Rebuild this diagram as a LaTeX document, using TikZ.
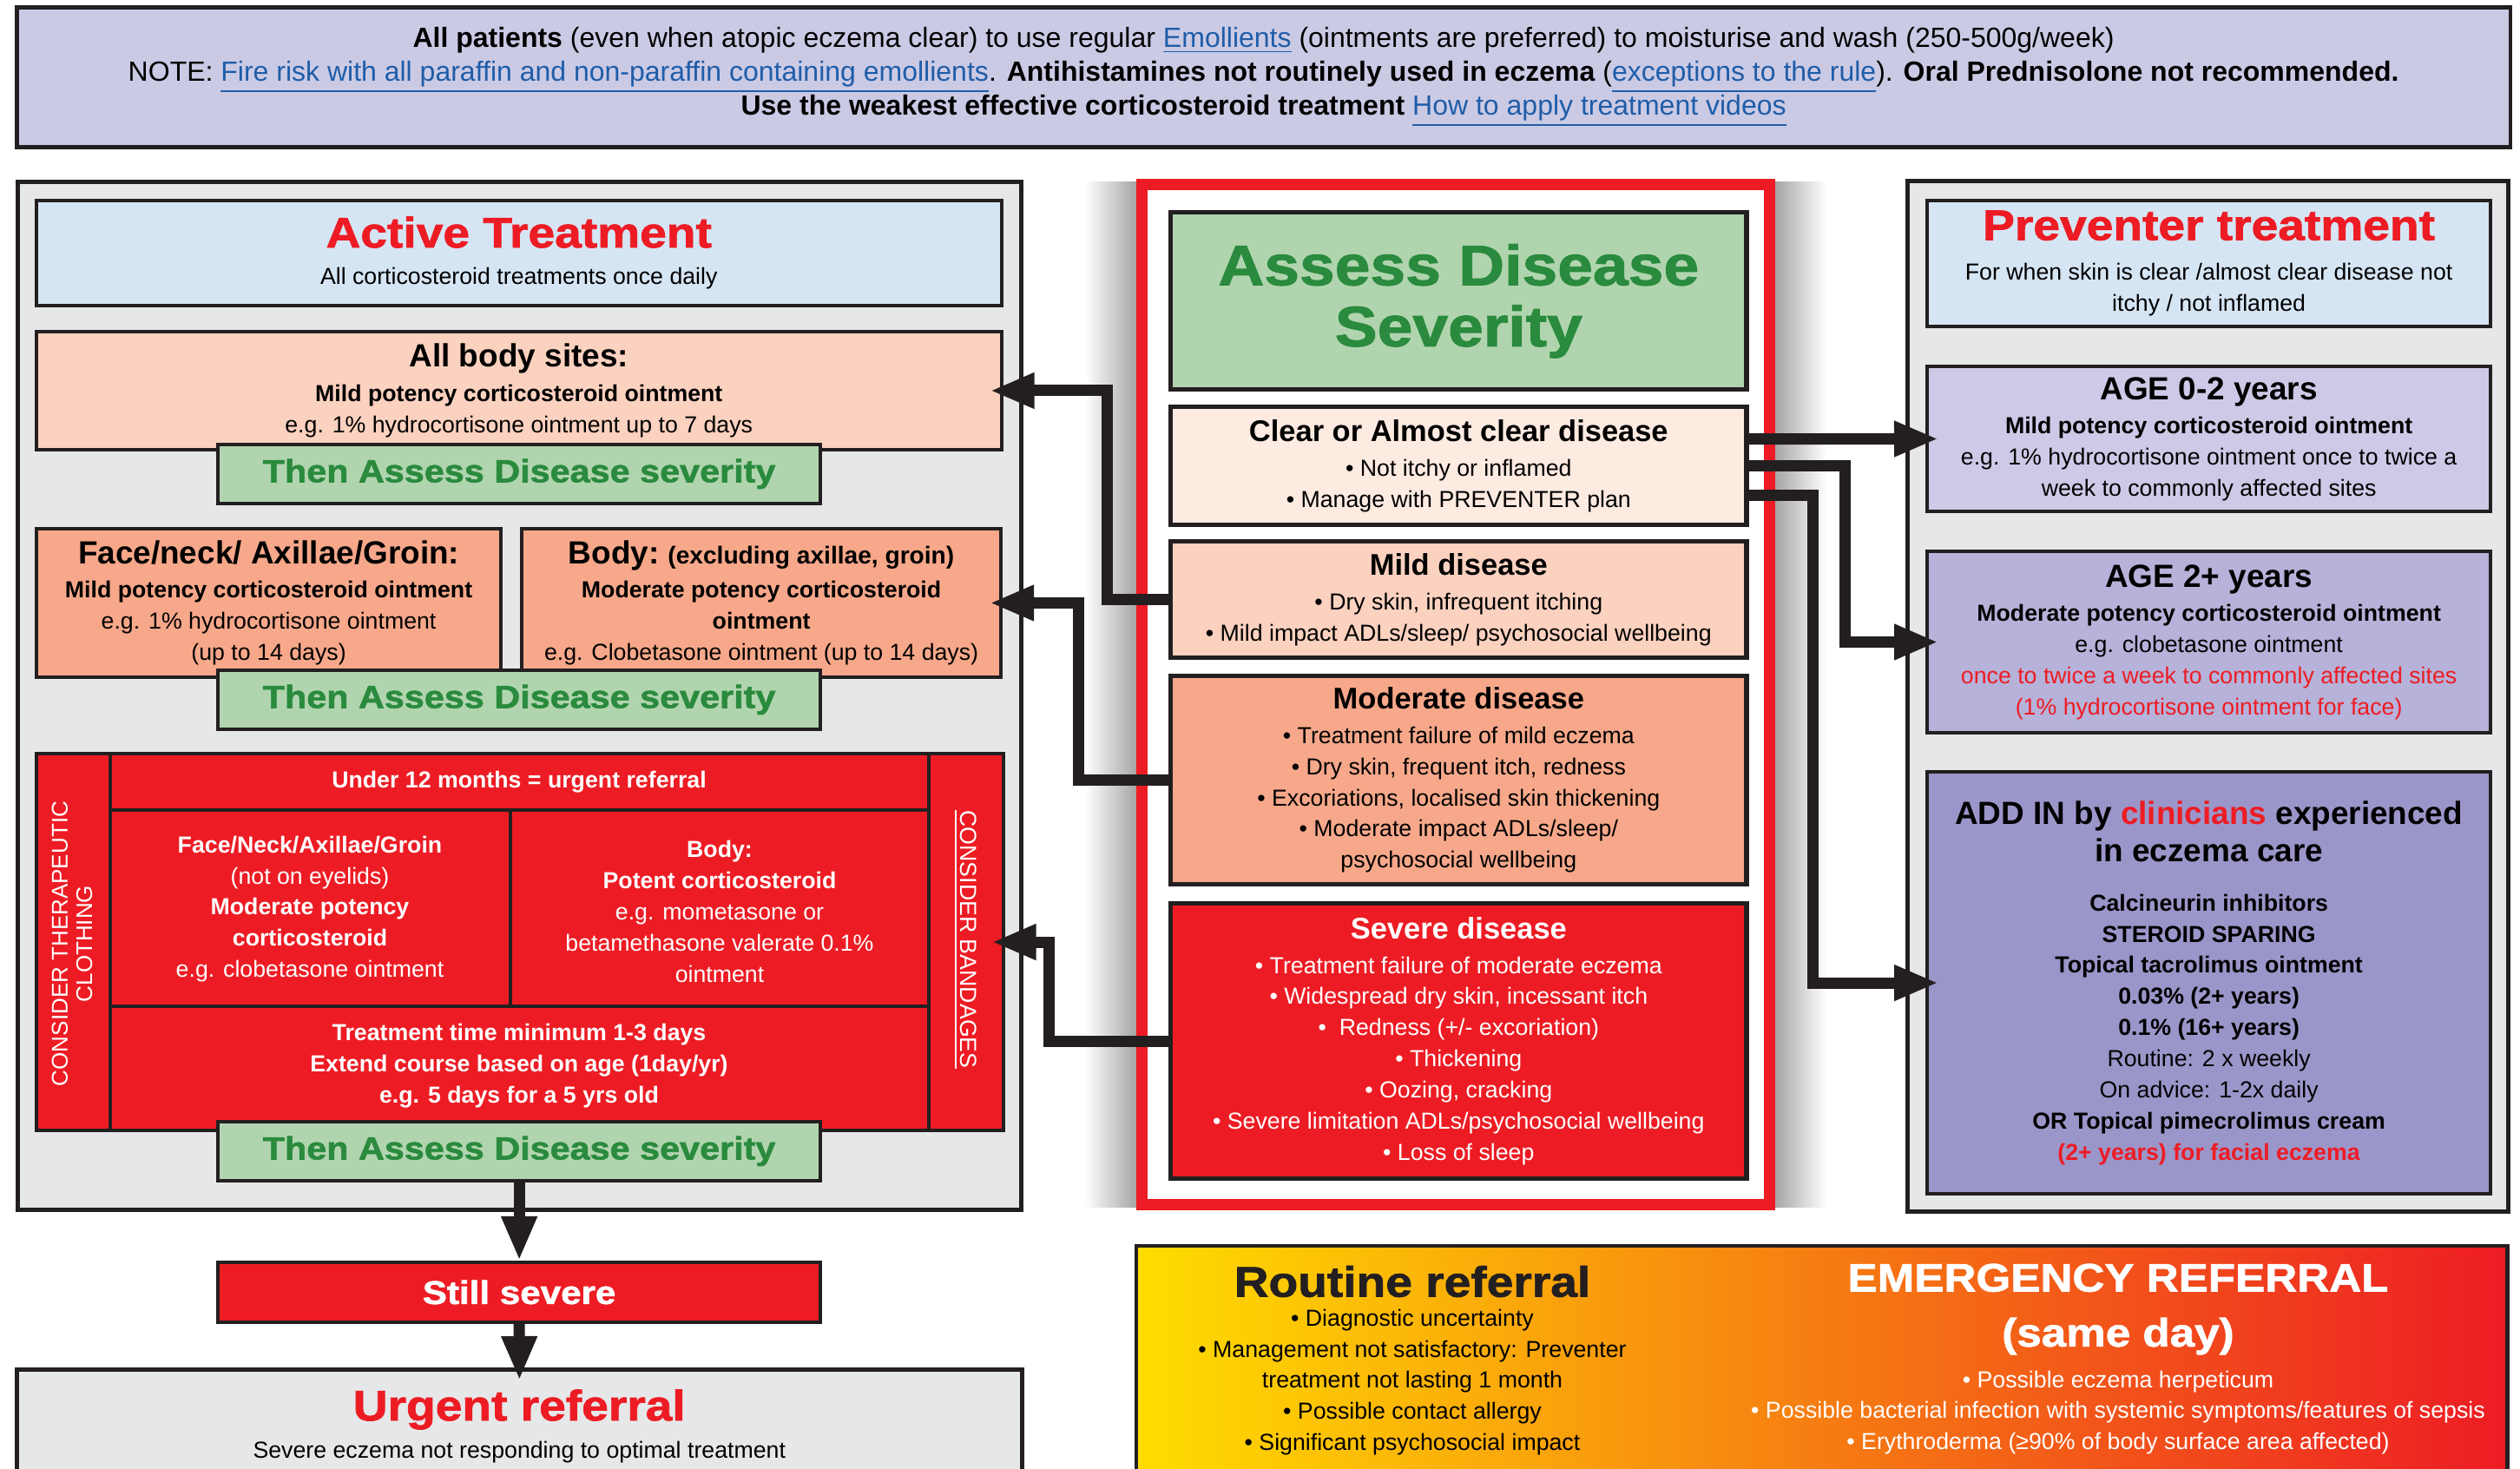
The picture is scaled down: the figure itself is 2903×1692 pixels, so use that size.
\documentclass[tikz,border=0pt]{standalone}
\usepackage{fontspec}
\setmainfont{Liberation Sans}
\newfontfamily\blackfont[FakeBold=1.5,FakeStretch=1.12]{Liberation Sans Bold}
\usetikzlibrary{arrows.meta,calc,positioning}

\definecolor{bandlav}{HTML}{CBCAE5}
\definecolor{panelgray}{HTML}{E6E7E8}
\definecolor{headblue}{HTML}{D6E5F4}
\definecolor{peachlt}{HTML}{FBD1BF}
\definecolor{salmon}{HTML}{F7A88A}
\definecolor{clearpink}{HTML}{FDEAE1}
\definecolor{nhsred}{HTML}{ED1C24}
\definecolor{greenfill}{HTML}{B0D5AE}
\definecolor{greentxt}{HTML}{2A8A3E}
\definecolor{lavone}{HTML}{CCCAE6}
\definecolor{lavtwo}{HTML}{B6B2D9}
\definecolor{lavthree}{HTML}{9B96C9}
\definecolor{darkline}{HTML}{231F20}
\definecolor{linkblue}{HTML}{1F5DA8}
\definecolor{sunyellow}{HTML}{FFDD00}
\definecolor{midorange}{HTML}{F47B20}

\newcommand{\tsz}{\fontsize{7.6}{10.2}\selectfont}
\newcommand{\hsz}{\fontsize{10.5}{13}\selectfont\bfseries}
\newcommand{\ttl}{\fontsize{9.8}{12}\selectfont\bfseries}
\newcommand{\bigttl}{\blackfont\fontsize{14}{16}\selectfont}
\newcommand{\lnk}[1]{{\color{linkblue}\underline{#1}}}

\tikzset{
  box/.style={draw=darkline, line width=1.1pt, anchor=north west, inner sep=0pt, align=center, font=\tsz},
  panel/.style={box, fill=panelgray, line width=1.4pt},
  sevbox/.style={box, line width=1.5pt, minimum width=6.63cm},
  greenbox/.style={box, fill=greenfill, minimum width=6.94cm, minimum height=0.68cm, text=greentxt, font=\blackfont\fontsize{10.5}{12}\selectfont},
  txt/.style={align=center, inner sep=0pt, font=\tsz},
  redtxt/.style={txt, text=white},
  divider/.style={draw=darkline, line width=0.9pt},
  conn/.style={draw=darkline, line width=3.7pt, shorten >=-1.5mm, -{Triangle[length=0.51cm,width=0.38cm]}},
}

\begin{document}
\begin{tikzpicture}[x=0.01cm, y=-0.01cm]
\useasboundingbox (0,0) rectangle (2903,1692);
\clip (0,0) rectangle (2903,1692);
\fill[white] (0,0) rectangle (2903,1692);

% top band
\node[box, fill=bandlav, line width=1.3pt, minimum width=28.71cm, minimum height=1.61cm, font=\fontsize{9.1}{11.1}\selectfont] (band) at (17,6) {%
  \textbf{All patients} (even when atopic eczema clear) to use regular \lnk{Emollients} (ointments are preferred) to moisturise and wash (250-500g/week)\\
  NOTE: \lnk{Fire risk with all paraffin and non-paraffin containing emollients}. \textbf{Antihistamines not routinely used in eczema} (\lnk{exceptions to the rule}). \textbf{Oral Prednisolone not recommended.}\\
  \textbf{Use the weakest effective corticosteroid treatment} \lnk{How to apply treatment videos}};

% shadows of the middle frame
\shade[left color=white, right color=black!35] (1250,210) rectangle (1309,1390);
\shade[left color=black!35, right color=white] (2045,210) rectangle (2104,1390);

% active treatment (left)
\node[panel, minimum width=11.55cm, minimum height=11.83cm] (actpanel) at (18,207) {};
\node[box, fill=headblue, minimum width=11.11cm, minimum height=1.21cm] (act) at (40,229)
  {{\bigttl\color{nhsred}Active Treatment}\\[2pt] All corticosteroid treatments once daily};
\node[box, fill=peachlt, minimum width=11.11cm, minimum height=1.36cm] (allsites) at (40,380)
  {{\hsz All body sites:}\\[1pt] \textbf{Mild potency corticosteroid ointment}\\ e.g. 1\% hydrocortisone ointment up to 7 days};
\node[greenbox] (then1) at (249,510) {Then Assess Disease severity};
\node[box, fill=salmon, minimum width=5.35cm, minimum height=1.71cm] (face) at (40,607)
  {{\hsz Face/neck/ Axillae/Groin:}\\[1pt] \textbf{Mild potency corticosteroid ointment}\\ e.g. 1\% hydrocortisone ointment\\ (up to 14 days)};
\node[box, fill=salmon, minimum width=5.52cm, minimum height=1.71cm] (body) at (599,607)
  {{\hsz Body:} {\fontsize{8}{10}\selectfont\bfseries (excluding axillae, groin)}\\[1pt] \textbf{Moderate potency corticosteroid}\\ \textbf{ointment}\\ e.g. Clobetasone ointment (up to 14 days)};
\node[greenbox] (then2) at (249,770) {Then Assess Disease severity};

\node[box, fill=nhsred, minimum width=11.13cm, minimum height=4.34cm] (sevblock) at (40,866) {};
\draw[divider] (127,866) -- (127,1300);
\draw[divider] (1070,866) -- (1070,1300);
\draw[divider] (127,933) -- (1070,933);
\draw[divider] (127,1159) -- (1070,1159);
\draw[divider] (588,933) -- (588,1159);
\node[redtxt] (under12) at (598,901) {\textbf{Under 12 months = urgent referral}};
\node[redtxt] (redface) at (357,1047) {\textbf{Face/Neck/Axillae/Groin}\\ (not on eyelids)\\ \textbf{Moderate potency}\\ \textbf{corticosteroid}\\ e.g. clobetasone ointment};
\node[redtxt] (redbody) at (829,1050) {\textbf{Body:}\\ \textbf{Potent corticosteroid}\\ e.g. mometasone or\\ betamethasone valerate 0.1\%\\ ointment};
\node[redtxt] (redtime) at (598,1228) {\textbf{Treatment time minimum 1-3 days}\\ \textbf{Extend course based on age (1day/yr)}\\ \textbf{e.g. 5 days for a 5 yrs old}};
\node[redtxt, rotate=90, font=\fontsize{7.4}{8}\selectfont] (clothing) at (83,1087) {CONSIDER THERAPEUTIC\\CLOTHING};
\node[redtxt, rotate=-90, font=\fontsize{7.6}{8}\selectfont] (bandages) at (1112,1082) {\underline{CONSIDER BANDAGES}};
\node[greenbox] (then3) at (249,1290) {Then Assess Disease severity};

\node[box, fill=nhsred, minimum width=6.94cm, minimum height=0.69cm, text=white, font=\blackfont\fontsize{10.7}{12}\selectfont] (still) at (249,1452) {Still severe};
\node[box, fill=panelgray, line width=1.4pt, minimum width=11.57cm, minimum height=1.30cm] (urgent) at (17,1575)
  {{\bigttl\color{nhsred}Urgent referral}\\[2pt] Severe eczema not responding to optimal treatment};

% assess disease severity (middle)
\draw[nhsred, line width=0.13cm, fill=white] (1315.5,212.5) rectangle (2038.5,1387.5);
\node[sevbox, fill=greenfill, minimum height=2.04cm, text=greentxt, font=\blackfont\fontsize{18.6}{20}\selectfont] (assess) at (1346,242) {Assess Disease\\Severity};
\node[sevbox, fill=clearpink, minimum height=1.36cm] (clear) at (1346,466)
  {{\ttl Clear or Almost clear disease}\\[1pt] • Not itchy or inflamed\\ • Manage with PREVENTER plan};
\node[sevbox, fill=peachlt, minimum height=1.34cm] (mild) at (1346,621)
  {{\ttl Mild disease}\\[1pt] • Dry skin, infrequent itching\\ • Mild impact ADLs/sleep/ psychosocial wellbeing};
\node[sevbox, fill=salmon, minimum height=2.40cm] (moderate) at (1346,776)
  {{\ttl Moderate disease}\\[1pt] • Treatment failure of mild eczema\\ • Dry skin, frequent itch, redness\\ • Excoriations, localised skin thickening\\ • Moderate impact ADLs/sleep/\\ psychosocial wellbeing};
\node[sevbox, fill=nhsred, minimum height=3.17cm, text=white] (severe) at (1346,1038)
  {{\ttl Severe disease}\\[1pt] • Treatment failure of moderate eczema\\ • Widespread dry skin, incessant itch\\ •\ \ Redness (+/- excoriation)\\ • Thickening\\ • Oozing, cracking\\ • Severe limitation ADLs/psychosocial wellbeing\\ • Loss of sleep};

% preventer treatment (right)
\node[panel, minimum width=6.92cm, minimum height=11.86cm] (prevpanel) at (2195,206) {};
\node[box, fill=headblue, minimum width=6.49cm, minimum height=1.45cm] (prev) at (2218,229)
  {{\bigttl\color{nhsred}Preventer treatment}\\[3pt] For when skin is clear /almost clear disease not\\ itchy / not inflamed};
\node[box, fill=lavone, minimum width=6.49cm, minimum height=1.67cm] (age02) at (2218,420)
  {{\hsz AGE 0-2 years}\\[1pt] \textbf{Mild potency corticosteroid ointment}\\ e.g. 1\% hydrocortisone ointment once to twice a\\ week to commonly affected sites};
\node[box, fill=lavtwo, minimum width=6.49cm, minimum height=2.09cm] (age2) at (2218,633)
  {{\hsz AGE 2+ years}\\[1pt] \textbf{Moderate potency corticosteroid ointment}\\ e.g. clobetasone ointment\\ {\color{nhsred}once to twice a week to commonly affected sites}\\ {\color{nhsred}(1\% hydrocortisone ointment for face)}};
\node[box, fill=lavthree, minimum width=6.49cm, minimum height=4.86cm] (addin) at (2218,887)
  {{\hsz ADD IN by {\color{nhsred}clinicians} experienced}\\[2pt] {\hsz in eczema care}\\[6pt]
   \textbf{Calcineurin inhibitors}\\ \textbf{STEROID SPARING}\\ \textbf{Topical tacrolimus ointment}\\ \textbf{0.03\% (2+ years)}\\ \textbf{0.1\% (16+ years)}\\
   Routine: 2 x weekly\\ On advice: 1-2x daily\\ \textbf{OR Topical pimecrolimus cream}\\ {\color{nhsred}\textbf{(2+ years) for facial eczema}}};

% referral box (bottom right)
\shade[left color=sunyellow, middle color=midorange, right color=nhsred] (1309,1435) rectangle (2888,1700);
\draw[darkline, line width=1.4pt] (1309,1700) -- (1309,1435) -- (2888,1435) -- (2888,1700);
\node[txt, font=\bigttl, text=darkline] (routine) at (1627,1476) {Routine referral};
\node[txt] (routinelist) at (1627,1592) {• Diagnostic uncertainty\\ • Management not satisfactory: Preventer\\ treatment not lasting 1 month\\ • Possible contact allergy\\ • Significant psychosocial impact};
\node[txt, text=white, font=\blackfont\fontsize{13}{18}\selectfont] (emergency) at (2440,1508) {EMERGENCY REFERRAL\\(same day)};
\node[redtxt] (emerglist) at (2440,1627) {• Possible eczema herpeticum\\ • Possible bacterial infection with systemic symptoms/features of sepsis\\ • Erythroderma (≥90\% of body surface area affected)};

% connectors
\draw[conn] (mild.west) -- ++(-71,0) |- (allsites.east);
\draw[conn] (moderate.west) -- ++(-104,0) |- (body.east);
\draw[conn] (severe.west) -- ++(-138,0) |- (sevblock.east);
\draw[conn] (clear.east) ++(0,-31) -- (age02.west);
\draw[conn] (clear.east) -- ++(111,0) |- (age2.west);
\draw[conn] (clear.east) ++(0,34) -- ++(74,0) |- (addin.west);
\draw[conn, shorten >=0pt] (then3.south) -- (still.north);
\draw[conn] (still.south) -- (urgent.north);
\end{tikzpicture}
\end{document}
